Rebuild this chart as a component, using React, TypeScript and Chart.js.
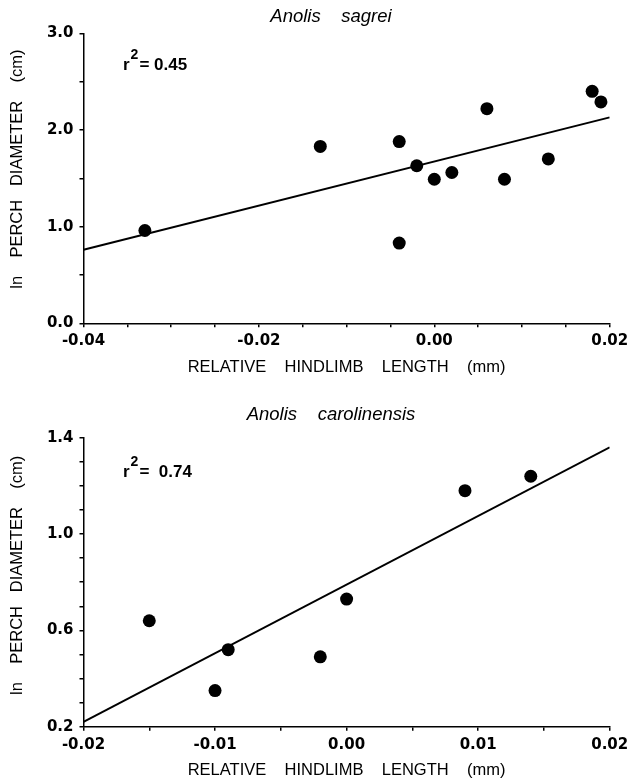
import React, { useEffect, useRef } from 'react';
import { Chart, registerables } from 'chart.js';

Chart.register(...registerables);

// ---- Data: Anolis sagrei ----
const sagreiX = [-0.033, -0.013, -0.004, -0.004, -0.002, 0.0, 0.002, 0.006, 0.008, 0.013, 0.018, 0.019];
const sagreiY = [0.96, 1.83, 1.88, 0.83, 1.63, 1.49, 1.56, 2.22, 1.49, 1.70, 2.40, 2.29];
const sagreiFitX = [-0.04, 0.02];
const sagreiFitY = [0.76, 2.13];

// ---- Data: Anolis carolinensis ----
const carolX = [-0.015, -0.010, -0.009, -0.002, 0.0, 0.009, 0.014];
const carolY = [0.64, 0.35, 0.52, 0.49, 0.73, 1.18, 1.24];
const carolFitX = [-0.02, 0.02];
const carolFitY = [0.22, 1.36];

// ---- Text ----
const titleTop = 'Anolis    sagrei';
const titleBottom = 'Anolis    carolinensis';
const r2Top = ['r', '2', '= 0.45'];
const r2Bottom = ['r', '2', '=  0.74'];
const xAxisTitle = 'RELATIVE    HINDLIMB    LENGTH    (mm)';
const yAxisTitleTop = '    ln    PERCH   DIAMETER    (cm)';
const yAxisTitleBottom = '   ln    PERCH   DIAMETER    (cm)';

const near = (v: number, step: number, base: number) => {
  const q = (v - base) / step;
  return Math.abs(q - Math.round(q)) < 1e-6;
};

type PanelProps = {
  height: number;
  xs: number[];
  ys: number[];
  fitX: number[];
  fitY: number[];
  xMin: number; xMax: number; xStep: number; xLabelStep: number;
  yMin: number; yMax: number; yStep: number; yLabelStep: number;
  yDigits: number;
  padTop: number; padRight: number; xAxisH: number; yAxisW: number;
  xTitlePadBottom: number;
  yTitle: string;
  title: string; titleY: number; titleX: number;
  r2: string[]; r2X: number; r2Y: number;
};

function Panel(p: PanelProps) {
  const ref = useRef<HTMLCanvasElement | null>(null);
  useEffect(() => {
    const canvas = ref.current;
    if (!canvas) return;
    const tickFont = { family: "'DejaVu Sans'", size: 15, weight: 'bold' as const };
    const textPlugin = {
      id: 'panelText',
      afterDraw(chart: Chart) {
        const ctx = chart.ctx;
        ctx.save();
        ctx.fillStyle = '#000';
        ctx.textBaseline = 'alphabetic';
        ctx.textAlign = 'center';
        ctx.font = "italic 18.5px 'Liberation Sans'";
        ctx.fillText(p.title, p.titleX, p.titleY);
        ctx.textAlign = 'left';
        let x = p.r2X;
        ctx.font = "bold 17px 'Liberation Sans'";
        ctx.fillText(p.r2[0], x, p.r2Y);
        x += ctx.measureText(p.r2[0]).width + 1;
        ctx.font = "bold 14px 'Liberation Sans'";
        ctx.fillText(p.r2[1], x, p.r2Y - 11);
        x += ctx.measureText(p.r2[1]).width + 1;
        ctx.font = "bold 17px 'Liberation Sans'";
        ctx.fillText(p.r2[2], x, p.r2Y);
        ctx.restore();
      },
    };
    const chart = new Chart(canvas, {
      type: 'scatter',
      data: {
        datasets: [
          {
            type: 'scatter',
            data: p.xs.map((x, i) => ({ x, y: p.ys[i] })),
            backgroundColor: '#000',
            borderColor: '#000',
            borderWidth: 0,
            pointRadius: 6.5,
          },
          {
            type: 'line',
            data: p.fitX.map((x, i) => ({ x, y: p.fitY[i] })),
            borderColor: '#000',
            borderWidth: 2,
            pointRadius: 0,
            fill: false,
            tension: 0,
          },
        ],
      },
      options: {
        responsive: false,
        animation: false,
        events: [],
        layout: { padding: { left: 0, right: p.padRight, top: p.padTop, bottom: 0 } },
        plugins: {
          legend: { display: false },
          tooltip: { enabled: false },
        },
        scales: {
          x: {
            type: 'linear',
            position: 'bottom',
            min: p.xMin,
            max: p.xMax,
            ticks: {
              stepSize: p.xStep,
              autoSkip: false,
              maxRotation: 0,
              minRotation: 0,
              padding: 5,
              color: '#000',
              font: tickFont,
              callback: (v: any) => {
                const n = Number(v);
                if (!near(n, p.xLabelStep, p.xMin)) return '';
                return (Math.abs(n) < 1e-9 ? 0 : n).toFixed(2);
              },
            },
            grid: { drawOnChartArea: false, drawTicks: true, tickLength: 4, color: '#000', lineWidth: 1.5 },
            border: { display: true, color: '#000', width: 1.5 },
            title: {
              display: true,
              text: xAxisTitle,
              color: '#000',
              font: { family: "'Liberation Sans'", size: 16.5 },
              padding: { top: 0, bottom: p.xTitlePadBottom },
            },
            afterFit: (s: any) => {
              s.height = p.xAxisH;
              s.paddingLeft = 0;
              s.paddingRight = 0;
            },
          },
          y: {
            type: 'linear',
            position: 'left',
            min: p.yMin,
            max: p.yMax,
            ticks: {
              stepSize: p.yStep,
              autoSkip: false,
              padding: 6,
              color: '#000',
              font: tickFont,
              callback: (v: any) => {
                const n = Number(v);
                if (!near(n, p.yLabelStep, p.yMin)) return '';
                return n.toFixed(p.yDigits);
              },
            },
            grid: { drawOnChartArea: false, drawTicks: true, tickLength: 4, color: '#000', lineWidth: 1.5 },
            border: { display: true, color: '#000', width: 1.5 },
            title: {
              display: true,
              text: p.yTitle,
              color: '#000',
              font: { family: "'Liberation Sans'", size: 16.5 },
              padding: { top: 8, bottom: 0 },
            },
            afterFit: (s: any) => {
              s.width = p.yAxisW;
              s.paddingTop = 0;
              s.paddingBottom = 0;
            },
          },
        },
      },
      plugins: [textPlugin],
    } as any);
    return () => chart.destroy();
  }, []);
  return (
    <canvas
      ref={ref}
      width={630}
      height={p.height}
      style={{ display: 'block', width: 630, height: p.height }}
    />
  );
}

export default function App() {
  return (
    <div style={{ position: 'absolute', left: 0, top: 0, width: 630, height: 782, background: '#fff' }}>
      <Panel
        height={390}
        xs={sagreiX}
        ys={sagreiY}
        fitX={sagreiFitX}
        fitY={sagreiFitY}
        xMin={-0.04} xMax={0.02} xStep={0.005} xLabelStep={0.02}
        yMin={0} yMax={3} yStep={0.5} yLabelStep={1} yDigits={1}
        padTop={33.3} padRight={20.3} xAxisH={66.7} yAxisW={83.5}
        xTitlePadBottom={13}
        yTitle={yAxisTitleTop}
        title={titleTop} titleX={331} titleY={21.7}
        r2={r2Top} r2X={123} r2Y={70}
      />
      <Panel
        height={392}
        xs={carolX}
        ys={carolY}
        fitX={carolFitX}
        fitY={carolFitY}
        xMin={-0.02} xMax={0.02} xStep={0.005} xLabelStep={0.01}
        yMin={0.2} yMax={1.4} yStep={0.1} yLabelStep={0.4} yDigits={1}
        padTop={47.7} padRight={20.3} xAxisH={55.3} yAxisW={83.5}
        xTitlePadBottom={2}
        yTitle={yAxisTitleBottom}
        title={titleBottom} titleX={331} titleY={30}
        r2={r2Bottom} r2X={123} r2Y={86.7}
      />
    </div>
  );
}
